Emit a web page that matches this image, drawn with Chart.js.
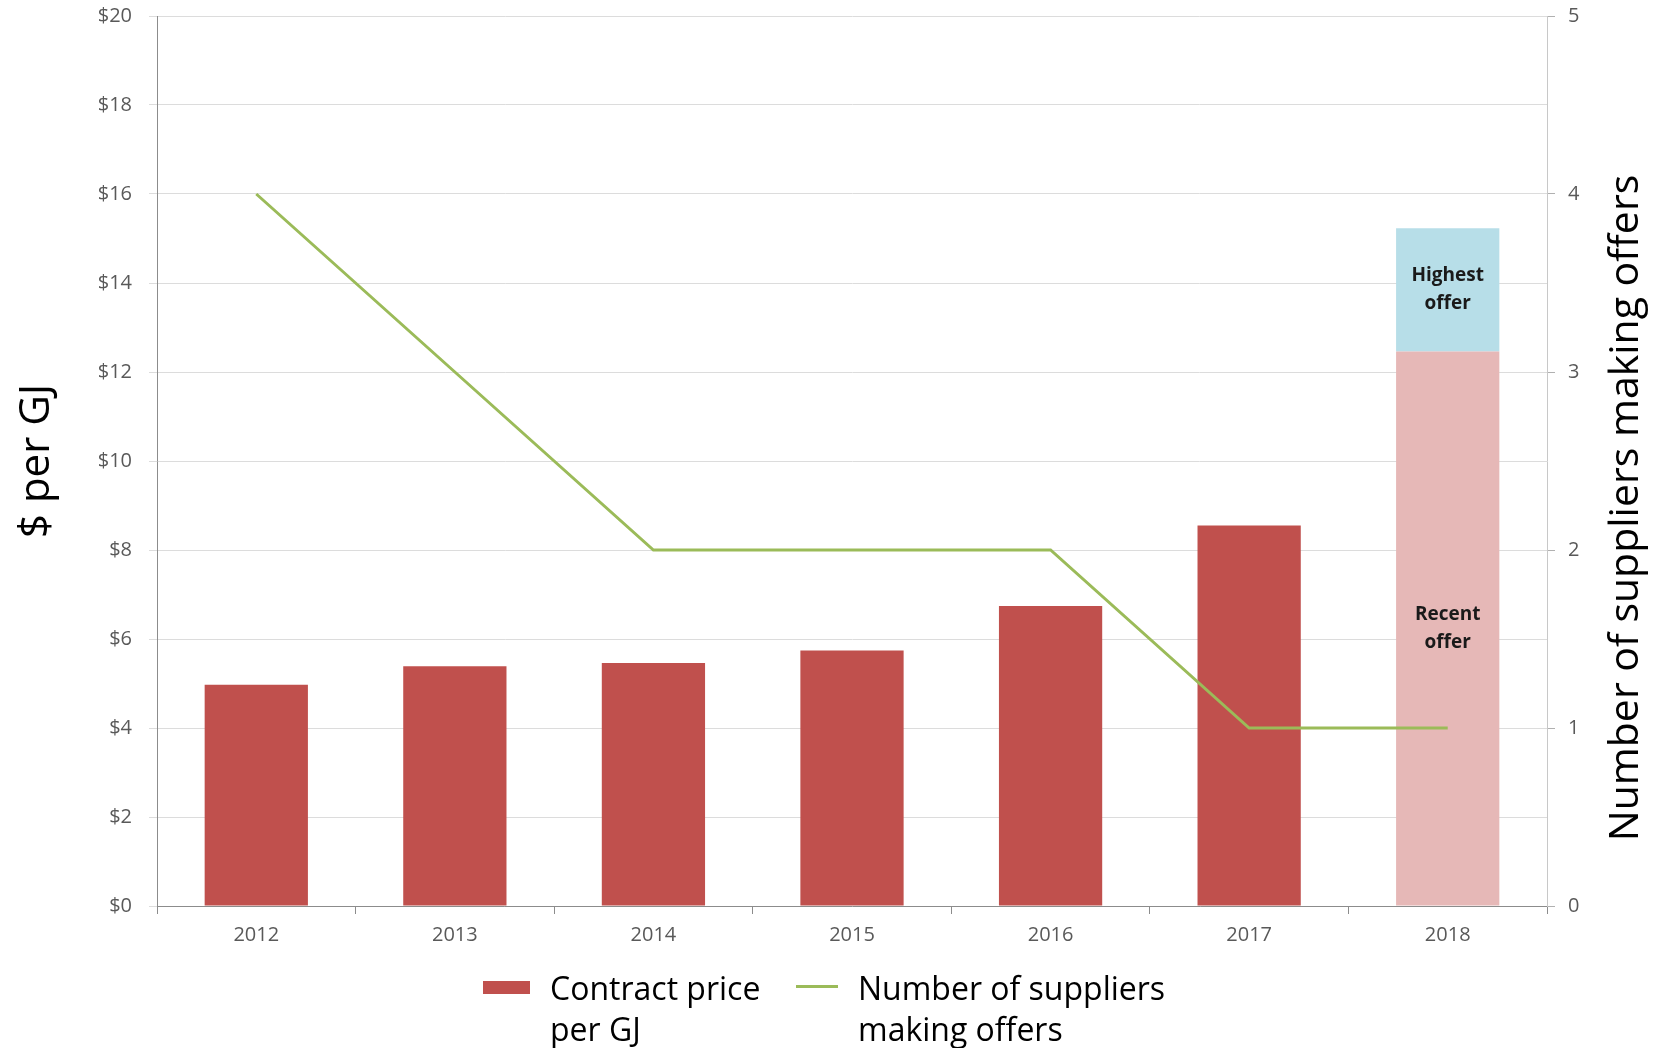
<!DOCTYPE html>
<html>
<head>
<meta charset="utf-8">
<script src="https://cdn.jsdelivr.net/npm/chart.js@4/dist/chart.umd.min.js"></script>
<style>
  html, body { margin: 0; padding: 0; background: #fff; }
  #wrap { position: relative; width: 1653px; height: 1048px; overflow: hidden; }
  #legend { position: absolute; top: 967px; left: 0; width: 1653px; font-family: "Open Sans", sans-serif; font-size: 32px; line-height: 41px; color: #000; }
  .item { position: absolute; top: 0; }
  .swatch { position: absolute; }
</style>
</head>
<body>
<div id="wrap">
  <canvas id="chart" width="1653" height="1048"></canvas>
  <div id="legend">
    <div class="swatch" style="left:483px; top:14px; width:47px; height:13px; background:#C0504D;"></div>
    <div class="item" style="left:550px;">Contract price<br>per GJ</div>
    <div class="swatch" style="left:796px; top:18px; width:42px; height:3px; background:#9BBB59;"></div>
    <div class="item" style="left:858px;">Number of suppliers<br>making offers</div>
  </div>
</div>
<script>
// values
const years = ['2012', '2013', '2014', '2015', '2016', '2017', '2018'];
const contractPrice = [4.97, 5.39, 5.46, 5.74, 6.74, 8.55, null];
const recentOffer = [null, null, null, null, null, null, 12.46];
const highestOffer = [null, null, null, null, null, null, 15.23];
const suppliers = [4, 3, 2, 2, 2, 1, 1];

// stacked segment above the recent offer
const highestExtra = highestOffer.map((v, i) => v == null ? null : v - recentOffer[i]);

const tickFont = { family: 'Open Sans', size: 20 };
const tickColor = '#595959';

// axis titles and in-bar labels
const extraText = {
  id: 'extraText',
  afterDatasetsDraw(chart) {
    const ctx = chart.ctx;
    const area = chart.chartArea;
    const mid = (area.top + area.bottom) / 2;
    ctx.save();
    ctx.fillStyle = '#000';
    ctx.font = '42px "Open Sans"';
    ctx.textAlign = 'center';
    ctx.textBaseline = 'middle';
    ctx.translate(37, mid);
    ctx.rotate(-Math.PI / 2);
    ctx.fillText('$ per GJ', 0, 0);
    ctx.restore();

    ctx.save();
    ctx.fillStyle = '#000';
    ctx.font = '41px "Open Sans"';
    ctx.textAlign = 'center';
    ctx.textBaseline = 'middle';
    ctx.translate(1626, mid + 47);
    ctx.rotate(-Math.PI / 2);
    ctx.fillText('Number of suppliers making offers', 0, 0);
    ctx.restore();

    const labels = [[1, ['Recent', 'offer']], [2, ['Highest', 'offer']]];
    ctx.save();
    ctx.fillStyle = '#1a1a1a';
    ctx.font = 'bold 19px "Open Sans"';
    ctx.textAlign = 'center';
    ctx.textBaseline = 'middle';
    labels.forEach(([di, lines]) => {
      const meta = chart.getDatasetMeta(di);
      meta.data.forEach((bar, i) => {
        if (chart.data.datasets[di].data[i] == null) return;
        const cy = (bar.y + bar.base) / 2;
        ctx.fillText(lines[0], bar.x, cy - 14);
        ctx.fillText(lines[1], bar.x, cy + 14);
      });
    });
    ctx.restore();
  }
};

new Chart(document.getElementById('chart'), {
  data: {
    labels: years,
    datasets: [
      {
        type: 'bar',
        label: 'Contract price per GJ',
        data: contractPrice,
        backgroundColor: '#C0504D',
        yAxisID: 'y',
        order: 2
      },
      {
        type: 'bar',
        label: 'Recent offer',
        data: recentOffer,
        backgroundColor: '#E6B8B7',
        yAxisID: 'y',
        order: 2
      },
      {
        type: 'bar',
        label: 'Highest offer',
        data: highestExtra,
        backgroundColor: '#B7DEE8',
        yAxisID: 'y',
        order: 2
      },
      {
        type: 'line',
        label: 'Number of suppliers making offers',
        data: suppliers,
        borderColor: '#9BBB59',
        borderWidth: 3,
        pointRadius: 0,
        tension: 0,
        fill: false,
        yAxisID: 'y1',
        order: 0
      }
    ]
  },
  options: {
    responsive: false,
    animation: false,
    devicePixelRatio: 1,
    layout: { padding: { top: 16, left: 0, right: 0, bottom: 0 } },
    datasets: {
      bar: { barPercentage: 0.52, categoryPercentage: 1.0 }
    },
    plugins: {
      legend: { display: false },
      tooltip: { enabled: false }
    },
    scales: {
      x: {
        stacked: true,
        grid: { display: true, drawOnChartArea: false, offset: true, tickLength: 8, color: '#8c8c8c' },
        border: { color: '#8c8c8c' },
        ticks: { font: tickFont, color: tickColor, padding: 9 },
        afterFit(scale) { scale.height = 142; scale.paddingLeft = 0; scale.paddingRight = 0; }
      },
      y: {
        stacked: true,
        position: 'left',
        min: 0,
        max: 20,
        ticks: { stepSize: 2, font: tickFont, color: tickColor, padding: 17, callback: v => '$' + v },
        grid: { color: '#dcdcdc', tickLength: 8 },
        border: { color: '#8c8c8c' },
        afterFit(scale) { scale.width = 157; scale.paddingTop = 0; scale.paddingBottom = 0; }
      },
      y1: {
        position: 'right',
        min: 0,
        max: 5,
        ticks: { stepSize: 1, font: tickFont, color: tickColor, padding: 13 },
        grid: { drawOnChartArea: false, tickLength: 8, color: '#b0b0b0' },
        border: { color: '#c8c8c8' },
        afterFit(scale) { scale.width = 106; scale.paddingTop = 0; scale.paddingBottom = 0; }
      }
    }
  },
  plugins: [extraText]
});
</script>
</body>
</html>
